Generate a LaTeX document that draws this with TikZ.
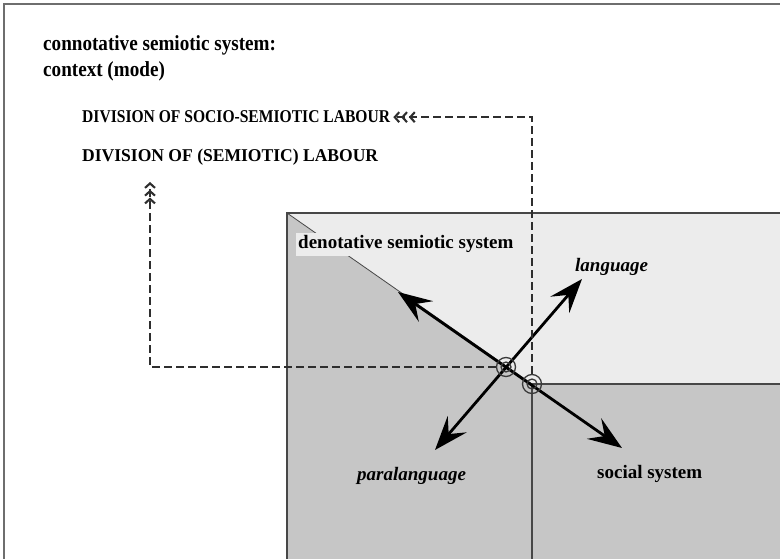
\documentclass[tikz,border=0pt]{standalone}
\usepackage{fontspec}
\usepackage{graphicx}
\setmainfont{Liberation Serif}
\usetikzlibrary{arrows.meta}

\definecolor{paneLight}{HTML}{ECECEC}
\definecolor{paneDark}{HTML}{C6C6C6}
\definecolor{ruleGray}{HTML}{474747}
\definecolor{frameGray}{HTML}{6E6E6E}
\definecolor{dashGray}{HTML}{2E2E2E}
\definecolor{ringGray}{HTML}{3A3A3A}

\tikzset{
  bighead/.tip={Stealth[length=34pt,width=25pt,inset=13pt]},
  triplebarb/.tip={Straight Barb[length=4.5pt,width=10pt,line width=2.1pt,sep=0.8pt]
                   Straight Barb[length=4.5pt,width=10pt,line width=2.1pt,sep=0.8pt]
                   Straight Barb[length=4.5pt,width=10pt,line width=2.1pt]},
  bigarrow/.style={line width=2.8pt, black, bighead-bighead},
  dashline/.style={dashGray, line width=1.6pt, dash pattern=on 7.5pt off 4.5pt, -triplebarb},
  heading/.style={font=\bfseries\fontsize{21.5}{25}\selectfont, inner sep=0pt, anchor=base west},
  capsA/.style={font=\bfseries\fontsize{18}{21}\selectfont, inner sep=1pt, inner xsep=3pt, anchor=base west},
  capsB/.style={font=\bfseries\fontsize{18}{21}\selectfont, inner sep=1pt, anchor=base west},
  lbl/.style={font=\bfseries\fontsize{19}{23}\selectfont, inner sep=0pt, anchor=base west},
  ring/.style={circle, draw=ringGray, line width=1.3pt, minimum size=19pt, inner sep=0pt},
  ringline/.style={ringGray, line width=1.3pt},
}

\begin{document}
\begin{tikzpicture}[x=1pt,y=-1pt]
\useasboundingbox (0,0) rectangle (780,559);

% outer frame (top and left edges)
\draw[frameGray, line width=2.5pt] (4,559) -- (4,4) -- (780,4);

% the two panes of the denotative system
\fill[paneLight] (287,213) -- (780,213) -- (780,384) -- (532,384) -- cycle;
\fill[paneDark] (287,213) -- (532,384) -- (780,384) -- (780,559) -- (287,559) -- cycle;
\draw[ruleGray, line width=0.8pt] (287,213) -- (532,384);

\node[lbl, fill=paneLight, inner xsep=2pt, inner ysep=2.5pt] (deno) at (296,249)
  {denotative semiotic system};

% box edges
\draw[ruleGray, line width=2pt] (287,559) -- (287,213) -- (780,213);
\draw[ruleGray, line width=2pt] (532,559) -- (532,384) -- (780,384);

% headings
\node[heading] (conn) at (43,51) {\scalebox{0.89}[1]{connotative semiotic system:}};
\node[heading] (ctx) at (43,77) {\scalebox{0.89}[1]{context (mode)}};
\node[capsA] (socio) at (79,123) {\scalebox{0.866}[1]{DIVISION OF SOCIO-SEMIOTIC LABOUR}};
\node[capsB] (semio) at (81,162) {\scalebox{0.975}[1]{DIVISION OF (SEMIOTIC) LABOUR}};

% labels of the four directions
\node[lbl] (lang) at (575,272) {\itshape language};
\node[lbl] (para) at (357,480) {\itshape paralanguage};
\node[lbl] (soc) at (597,478) {social system};

% crossing arrows
\coordinate (nw) at (398,292);
\coordinate (se) at (622,448);
\coordinate (ne) at (582,279);
\coordinate (sw) at (435,450);
\draw[bigarrow] (nw) -- (se);
\draw[bigarrow] (sw) -- (ne);

% junction rings
\node[ring] (c1) at (506,367) {};
\node[ring] (c2) at (532,384) {};
\draw[ringline] (c1.center) circle[radius=5pt];
\draw[ringline] (c2.center) circle[radius=5pt];

% dashed links to the divisions of labour
\coordinate (k1) at (150,367);
\coordinate (t1) at (150,182);
\draw[dashline] (c1) -- (k1) -- (t1);
\draw[dashline] (c2) |- (socio.east);
\end{tikzpicture}
\end{document}
